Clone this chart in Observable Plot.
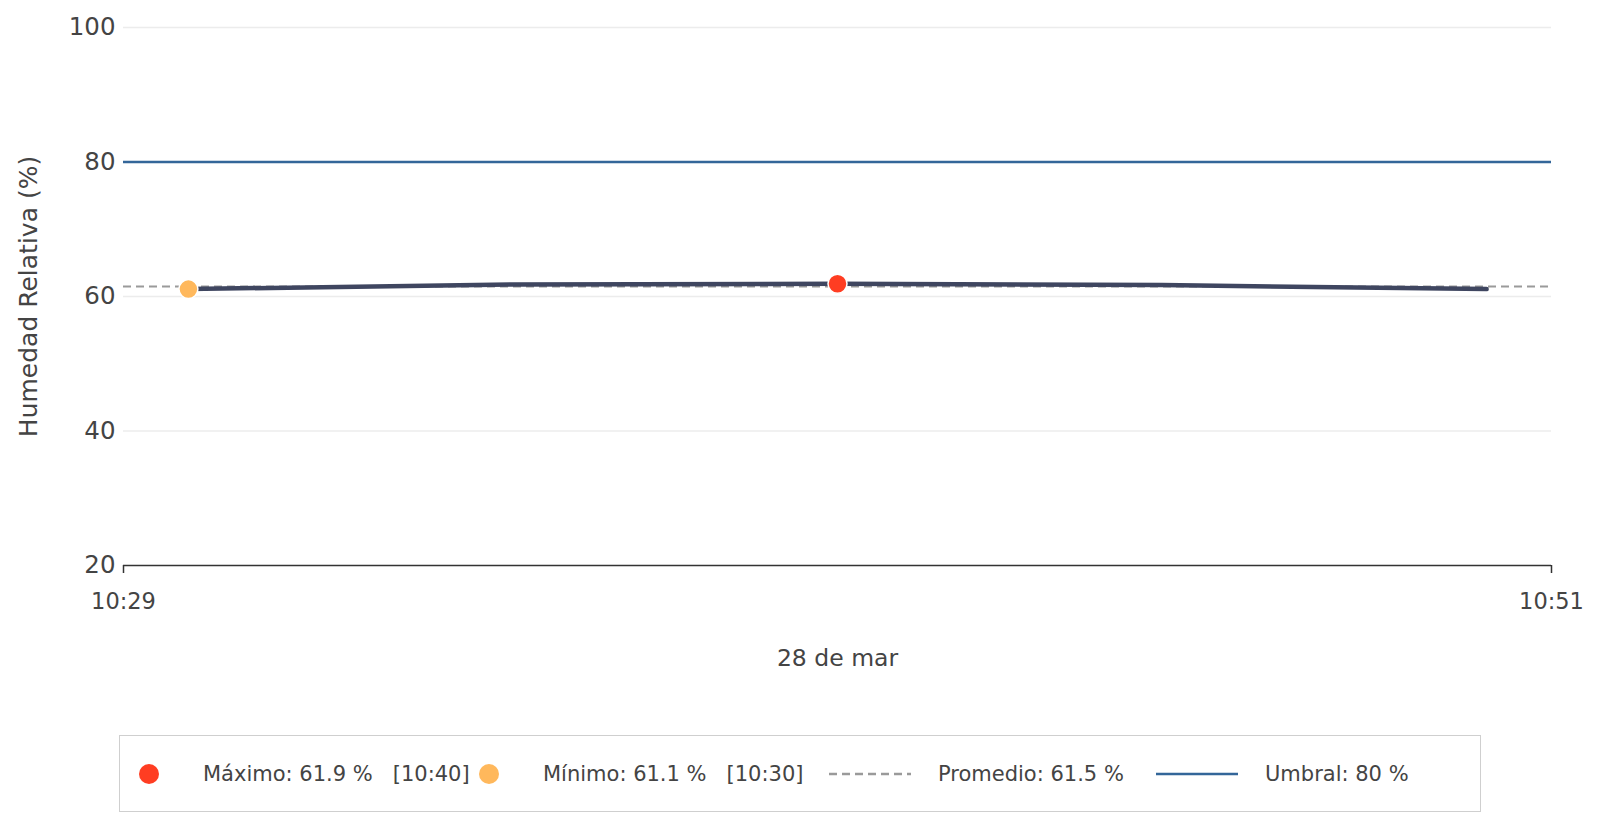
<!DOCTYPE html>
<html>
<head>
<meta charset="utf-8">
<script src="https://cdn.jsdelivr.net/npm/d3@7"></script>
<script src="https://cdn.jsdelivr.net/npm/@observablehq/plot@0.6"></script>
<style>
  html, body { margin: 0; padding: 0; background: #fff; }
  body { font-family: "DejaVu Sans", sans-serif; color: #444; width: 1601px; }
  #legend { position: absolute; left: 119px; top: 735px; width: 1362px; height: 77px;
            border: 1.5px solid #cfcfcf; box-sizing: border-box; font-size: 21px; color: #444; }
  #legend .item { position: absolute; top: 0; height: 100%; display: flex; align-items: center; white-space: pre; }
  #legend .dot { width: 20px; height: 20px; border-radius: 50%; }
  #legend .ln { width: 82px; height: 0; }
</style>
</head>
<body>
<div id="chart"></div>
<div id="legend"></div>
<script>
// ---- data ----
const day = [2024, 2, 28];
const times = ["10:30", "10:35", "10:40", "10:45", "10:50"];
const humidity = [61.1, 61.8, 61.9, 61.7, 61.1];
const xTickLabels = ["10:29", "10:51"];
const yTicks = [20, 40, 60, 80, 100];
const average = 61.5;
const threshold = 80;
const yTitle = "Humedad Relativa (%)";
const xTitle = "28 de mar";

const toDate = s => { const [h, m] = s.split(":").map(Number); return new Date(day[0], day[1], day[2], h, m); };
const data = times.map((t, i) => ({ t: toDate(t), label: t, v: humidity[i] }));
const xTicks = xTickLabels.map(toDate);
const maxI = d3.maxIndex(humidity);
const minI = d3.minIndex(humidity);
const maxPt = [data[maxI]];
const minPt = [data[minI]];
const fmt = d3.timeFormat("%H:%M");

const chart = Plot.plot({
  width: 1601,
  height: 700,
  marginTop: 27,
  marginBottom: 135,
  marginLeft: 123,
  marginRight: 50,
  style: { fontFamily: "DejaVu Sans, sans-serif", color: "#444", background: "white" },
  x: { type: "time", domain: xTicks },
  y: { domain: [yTicks[0], yTicks[yTicks.length - 1]] },
  marks: [
    Plot.gridY(yTicks.slice(1), { stroke: "#ececec", strokeOpacity: 1, strokeWidth: 1.5 }),
    Plot.ruleY([average], { stroke: "#9a9a9a", strokeWidth: 2, strokeDasharray: "8,5" }),
    Plot.ruleY([threshold], { stroke: "#336699", strokeWidth: 2.5 }),
    Plot.line(data, { x: "t", y: "v", stroke: "#3f4660", strokeWidth: 4.5 }),
    Plot.dot(minPt, { x: "t", y: "v", r: 9.5, fill: "#ffb85c", stroke: "white", strokeWidth: 1.5 }),
    Plot.dot(maxPt, { x: "t", y: "v", r: 9.5, fill: "#ff3d22", stroke: "white", strokeWidth: 1.5 }),
    Plot.ruleY([yTicks[0]], { stroke: "#333", strokeWidth: 1.5 }),
    Plot.axisX({ ticks: xTicks, tickFormat: fmt, tickSize: 8, tickPadding: 20, fontSize: 22.5, label: null, stroke: "#333", strokeWidth: 1.5 }),
    Plot.axisY({ ticks: yTicks, tickSize: 0, tickPadding: 8, fontSize: 24.5, label: null }),
    Plot.text([yTitle], { frameAnchor: "left", dx: -95, rotate: -90, textAnchor: "middle", lineAnchor: "middle", fontSize: 25, fill: "#444" }),
    Plot.text([xTitle], { frameAnchor: "bottom", dy: 93, textAnchor: "middle", lineAnchor: "middle", fontSize: 23.5, fill: "#444" })
  ]
});
document.getElementById("chart").appendChild(chart);

// ---- legend ----
const legendItems = [
  { left: 19, sym: `<div class="dot" style="background:#ff3d22"></div>`, textLeft: 83,
    text: `Máximo: ${humidity[maxI].toFixed(1)} %   [${times[maxI]}]` },
  { left: 359, sym: `<div class="dot" style="background:#ffb85c"></div>`, textLeft: 423,
    text: `Mínimo: ${humidity[minI].toFixed(1)} %   [${times[minI]}]` },
  { left: 709, sym: `<svg width="82" height="4"><line x1="0" x2="82" y1="2" y2="2" stroke="#9a9a9a" stroke-width="2.5" stroke-dasharray="8,5"/></svg>`, textLeft: 818,
    text: `Promedio: ${average.toFixed(1)} %` },
  { left: 1036, sym: `<svg width="82" height="4"><line x1="0" x2="82" y1="2" y2="2" stroke="#336699" stroke-width="2.5"/></svg>`, textLeft: 1145,
    text: `Umbral: ${threshold} %` }
];
const lg = document.getElementById("legend");
for (const it of legendItems) {
  const s = document.createElement("div");
  s.className = "item"; s.style.left = it.left + "px"; s.innerHTML = it.sym;
  lg.appendChild(s);
  const t = document.createElement("div");
  t.className = "item"; t.style.left = it.textLeft + "px"; t.textContent = it.text;
  lg.appendChild(t);
}
</script>
</body>
</html>
